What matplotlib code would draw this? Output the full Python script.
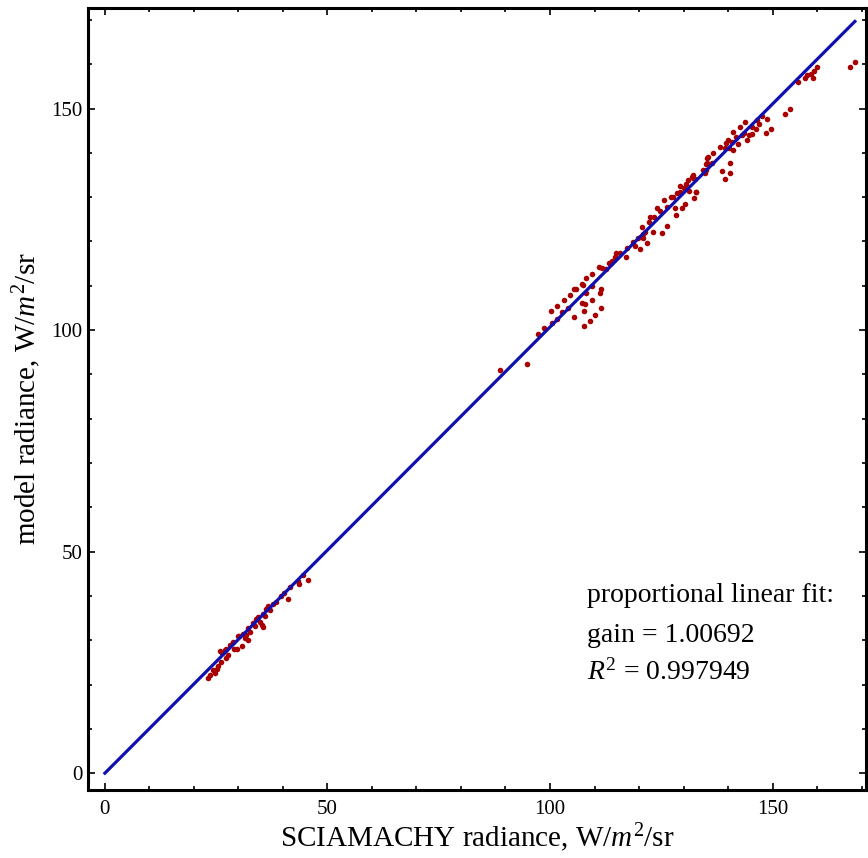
import numpy as np
import matplotlib
matplotlib.use("Agg")
import matplotlib.pyplot as plt
from matplotlib.ticker import MultipleLocator

plt.rcParams["font.family"] = ["Liberation Serif", "DejaVu Serif"]
plt.rcParams["mathtext.fontset"] = "custom"
plt.rcParams["mathtext.rm"] = "Liberation Serif"
plt.rcParams["mathtext.it"] = "Liberation Serif:italic"

# SCIAMACHY radiance (x) vs model radiance (y)
sciamachy = [
    44.6, 45.7, 43.3, 43.6, 41.6, 40.2, 41.1, 38.4, 36.7, 36.3, 37.1, 35.6, 36.0, 34.3,
    34.8, 35.6, 35.2, 33.3, 32.2, 32.6, 31.1, 31.5, 29.8, 32.2, 28.8, 29.1, 29.6, 30.7,
    27.3, 26.2, 27.0, 27.7, 27.3, 26.1, 25.5, 25.1, 24.3, 23.6, 23.2, 24.7, 30.2, 33.8,
    28.2, 25.9, 34.0, 31.8, 37.8, 39.5,
    88.8, 94.8, 97.4, 98.7, 100.4, 101.5, 100.2, 101.5, 102.8, 103.1, 104.1, 104.5, 105.5,
    105.8, 105.5, 107.1, 107.5, 108.2, 109.5, 110.9, 112.5, 113.3, 113.7, 114.5, 114.8,
    115.7, 109.5, 108.2, 109.4, 111.2, 111.5, 107.1, 107.9, 107.7, 111.5, 110.1, 109.1,
    107.7,
    111.6, 113.5, 113.9, 117.1, 117.4, 118.7, 119.1, 120.2, 119.8, 120.8, 121.0, 121.3,
    121.7, 120.6, 122.3, 122.5, 123.4, 123.2, 124.1, 124.7, 125.1, 126.2, 125.6, 126.2,
    127.1, 127.6, 128.3, 128.1, 128.5, 129.1, 129.6, 130.3, 129.2, 130.0, 130.9, 130.6,
    131.3, 131.8, 132.2, 132.4, 132.8, 135.1, 135.3, 135.1,
    168.5, 167.3, 159.9, 159.3, 159.0, 158.6, 157.3, 157.7, 155.8, 153.9, 152.8, 149.6,
    148.5, 148.7, 147.6, 147.0, 146.3, 146.4, 145.3, 145.3, 144.2, 143.8, 142.7, 143.1,
    141.9, 142.3, 141.2, 140.8, 140.1, 139.6, 139.3, 138.2, 140.3, 141.1, 136.7, 135.6,
    135.2, 136.3, 140.4, 138.6, 139.3, 140.4, 134.4, 134.8, 132.2, 132.6, 132.8, 143.6,
    144.8,
]
model = [
    44.7, 43.6, 43.4, 42.7, 42.1, 40.7, 39.2, 38.7, 37.7, 37.0, 36.8, 36.0, 35.4, 35.3,
    34.2, 33.0, 33.4, 33.9, 32.7, 31.9, 31.5, 30.4, 30.9, 30.0, 29.6, 28.1, 28.1, 28.7,
    28.1, 27.2, 27.8, 26.6, 25.9, 25.1, 24.2, 23.6, 23.3, 22.1, 21.4, 22.5, 31.0, 33.2,
    28.9, 27.5, 34.8, 31.2, 38.2, 39.9,
    91.1, 92.3, 99.1, 100.5, 101.6, 102.6, 104.3, 105.4, 104.0, 106.8, 105.1, 107.9, 109.2,
    109.2, 102.9, 110.3, 110.2, 111.7, 112.6, 114.2, 113.7, 115.1, 115.1, 116.5, 117.3,
    117.5, 109.9, 108.3, 106.9, 108.3, 109.2, 106.2, 105.9, 104.3, 104.9, 103.5, 102.1,
    101.0,
    114.1, 115.1, 115.6, 116.5, 118.6, 119.9, 119.0, 118.3, 120.8, 120.8, 121.6, 122.1,
    119.6, 123.3, 124.4, 125.6, 125.6, 122.2, 127.5, 126.9, 122.0, 123.5, 129.3, 127.8,
    130.0, 130.0, 126.0, 127.5, 130.9, 131.2, 127.5, 128.4, 132.6, 132.1, 133.9, 132.9,
    131.4, 134.6, 134.4, 129.9, 131.1, 136.1, 138.9, 137.6,
    160.6, 159.3, 159.3, 158.5, 157.0, 157.9, 157.0, 157.6, 156.1, 149.8, 148.7, 145.4,
    144.4, 147.6, 148.3, 146.5, 145.3, 147.4, 145.9, 144.2, 142.9, 147.0, 145.9, 144.0,
    143.5, 142.1, 144.8, 142.5, 143.0, 142.3, 141.2, 141.4, 141.2, 140.6, 140.0, 139.0,
    137.8, 137.8, 137.8, 136.0, 134.0, 135.4, 136.1, 135.4, 135.0, 134.2, 131.2, 144.5,
    144.0,
]
gain = 1.00692
r2 = 0.997949
fit_range = [0, 168.5]

W, H = 868, 858
fig = plt.figure(figsize=(W / 100, H / 100), dpi=100)
ax = fig.add_axes([88 / W, 1 - 790 / H, (866 - 88) / W, (790 - 8) / H])

ax.scatter(sciamachy, model, s=16, color="#a80000", linewidths=0, zorder=2)
xs = np.array(fit_range)
ax.plot(xs, gain * xs, color="#1010b0", lw=2.3, zorder=3)

ax.set_xlim(-3.8, 171.0)
ax.set_ylim(-3.8, 172.7)

ax.xaxis.set_major_locator(MultipleLocator(50))
ax.yaxis.set_major_locator(MultipleLocator(50))
ax.xaxis.set_minor_locator(MultipleLocator(10))
ax.yaxis.set_minor_locator(MultipleLocator(10))
ax.tick_params(which="both", direction="in", top=True, right=True,
               labelsize=15, width=1.2)
ax.tick_params(which="major", length=5)
ax.tick_params(which="minor", length=3)
ax.tick_params(axis="x", pad=7)
ax.tick_params(axis="y", pad=4)
for sp in ax.spines.values():
    sp.set_linewidth(2.2)

ax.set_xlabel("SCIAMACHY radiance, W/$m^2$/sr", fontsize=21, labelpad=2)
ax.set_ylabel("model radiance, W/$m^2$/sr", fontsize=21, labelpad=6)

tx = 0.641
ax.text(tx, 0.240, "proportional linear fit:", transform=ax.transAxes,
        fontsize=20, va="baseline")
ax.text(tx, 0.189, f"gain = {gain}", transform=ax.transAxes,
        fontsize=20, va="baseline")
ax.text(tx, 0.141, f"$R^2$ = {r2}", transform=ax.transAxes,
        fontsize=20, va="baseline")

fig.savefig("out.png", dpi=100)
